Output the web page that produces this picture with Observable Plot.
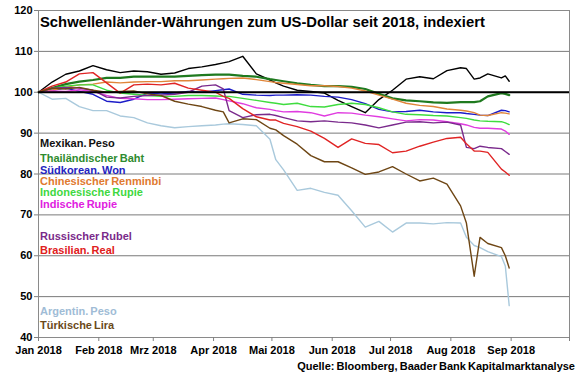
<!DOCTYPE html>
<html><head><meta charset="utf-8">
<script src="https://cdn.jsdelivr.net/npm/d3@7"></script>
<script src="https://cdn.jsdelivr.net/npm/@observablehq/plot@0.6"></script>
<style>
body{margin:0;background:#fff;}
#wrap{position:relative;width:580px;height:375px;font-family:"Liberation Sans",Arial,sans-serif;font-weight:bold;color:#000;}
#title{position:absolute;left:40px;top:14px;font-size:14.8px;line-height:17px;white-space:nowrap;}
.leg{position:absolute;left:40px;font-size:11px;line-height:12px;white-space:nowrap;word-spacing:-1px;}
#caption{position:absolute;right:5px;top:360px;font-size:11px;line-height:13px;white-space:nowrap;word-spacing:-1px;}
</style></head>
<body>
<div id="wrap">
  <div id="chart"></div>
  <div id="title">Schwellenländer-Währungen zum US-Dollar seit 2018, indexiert</div>
  <div id="legend"></div>
  <div id="caption">Quelle: Bloomberg, Baader Bank Kapitalmarktanalyse</div>
</div>
<script>
const dates = ["2018-01-01","2018-01-08","2018-01-15","2018-01-22","2018-01-29","2018-02-05","2018-02-12","2018-02-19","2018-02-26","2018-03-05","2018-03-12","2018-03-19","2018-03-26","2018-04-02","2018-04-06","2018-04-09","2018-04-16","2018-04-23","2018-04-30","2018-05-03","2018-05-07","2018-05-14","2018-05-21","2018-05-28","2018-06-04","2018-06-11","2018-06-18","2018-06-25","2018-07-02","2018-07-09","2018-07-16","2018-07-23","2018-07-30","2018-08-06","2018-08-09","2018-08-13","2018-08-16","2018-08-20","2018-08-27","2018-08-29","2018-08-31"];

const mexikanPeso = [100,102.5,104.4,105.2,106.5,105.5,104.8,105.2,105,104.4,104.7,105.8,106.2,106.8,107.2,107.5,108.8,104.5,103,102.3,101.5,100.5,100.2,99.8,98,96.5,95,98.2,100.5,103.2,103.8,103.3,105.3,106,105.8,103.2,103.5,104.5,103.5,104,102.7];
const thaiBaht = [100,101,102,102.6,103,103.5,103.5,103.8,103.8,103.8,103.8,104,104.2,104.3,104.3,104.3,104,103.8,103.2,103,102.7,102.2,101.8,101.5,101.5,101.3,100.8,99.6,98.5,98,97.8,97.5,97.4,97.6,97.6,97.6,97.8,99,99.8,99.6,99.3];
const koreaWon = [100,100.5,101,100.2,99.5,97.8,97.5,98.3,99.8,99.6,99.8,100.2,100,100.4,100.6,100.8,99.5,99.3,99.2,99.3,99.3,99.4,99.3,99,98.8,98.2,97.2,95.8,95.2,95.3,95.6,95.2,95,95,94.8,94.6,94.4,94.3,95.6,95.5,95.2];
const chinaRenminbi = [100,100.5,101.2,101.8,102,102.5,102.3,102.5,102.6,102.6,102.8,102.8,103,103.2,103.3,103.4,103.5,103.1,102.6,102.4,102.2,101.9,101.6,101.6,101.4,101,100.3,99.3,98.3,97.3,96.8,96.5,95.9,95.6,95.4,95,94.4,94.3,95,94.9,94.7];
const indonesiaRupie = [100,101,101.5,101.8,101.8,100.5,99.8,99.5,99.2,99,99,99.2,99.2,99.1,99,99,98.5,98,97.5,97.3,97,97.3,96.5,96.4,97,97.3,97,96.2,95.2,94.6,94.5,94.3,94.2,93.8,93.6,93.2,93,92.9,92.8,92.5,92.1];
const indiaRupie = [100,100.3,100.2,100.6,100.2,99.2,98.5,98.4,98.2,98.2,98.3,98.4,98.5,98.6,98.2,97.9,97.2,96.2,95.8,95.5,95.2,95.3,95,94.2,95,94.9,94.4,94,93.5,93,93.3,93.2,92.8,92.3,92,91.4,91.2,91.2,91,90.5,89.7];
const russiaRubel = [100,101,101.2,101,100.5,98.8,98.6,99,99.2,99.3,99.5,100,101.5,101.8,100.8,95.5,93.8,94.5,94.6,94.3,93.8,93,92.8,93,92.7,92.5,92,91.3,92,92.7,92.8,92.5,92.7,92,86.5,86.2,86.8,86.5,86.2,85.5,84.8];
const brasilReal = [100,101.5,102.5,104.5,104.8,102.3,99.8,101.8,102,101.8,102.2,101,100.5,100,99,98.5,96,94,93.2,93.2,92.4,91.6,90.5,88.7,86.5,88.6,87.5,87.2,85.2,85.6,86.8,87.8,88.7,89,87.4,85.6,85.6,85.3,81.2,80.5,79.7];
const argentinPeso = [100,98.3,98.5,96.5,95.5,95.5,94.2,93.8,92.5,91.8,91.3,91.6,91.8,92,92.2,92.3,92.1,91.8,88.5,83.5,81,76,76.5,75.5,74.8,71,67,68.4,65.8,68,68,67.8,68.1,68,64.5,62.5,62,61,59.8,57.5,47.8];
const tuerkeiLira = [100,101,100.8,101.2,100.5,100,100.2,100.3,99.6,99.2,97.8,97.1,96.5,95.6,95.2,92.5,93.5,93.3,91.2,90.8,89.4,87.3,84.5,83,83,81.5,79.9,80.5,81.8,80,78.3,79,77.5,72.2,68,55,64.5,63,62,60,57];

const seriesNames = ["Mexikan. Peso","Thailändischer Baht","Südkorean. Won","Chinesischer Renminbi","Indonesische Rupie","Indische Rupie","Russischer Rubel","Brasilian. Real","Argentin. Peso","Türkische Lira"];
const seriesValues = [mexikanPeso,thaiBaht,koreaWon,chinaRenminbi,indonesiaRupie,indiaRupie,russiaRubel,brasilReal,argentinPeso,tuerkeiLira];

const monthStarts = ["2018-01-01","2018-02-01","2018-03-01","2018-04-01","2018-05-01","2018-06-01","2018-07-01","2018-08-01","2018-09-01","2018-10-01"];
const monthLabels = ["Jan 2018","Feb 2018","Mrz 2018","Apr 2018","Mai 2018","Jun 2018","Jul 2018","Aug 2018","Sep 2018",""];
const yTicks = [40,50,60,70,80,90,100,110,120];

// styling
const lineColors = ["#000000","#1f7a1f","#1c1cc8","#e0853a","#3fdc3f","#e03ce0","#7a2a8c","#e02424","#a9c9dc","#6e4614"];
const labelColors = ["#111111","#2e8b2e","#2424c0","#e07a30","#3fd83f","#e020e0","#7a2a8a","#e02020","#a0bcd6","#6b4a1a"];
const lineWidths = [1.4,2.2,1.4,1.4,1.4,1.4,1.4,1.4,1.4,1.4];
const legendCenters = [143,158,169.5,181,192,204,236,250,311,325];

const parse = d3.utcParse("%Y-%m-%d");
const rows = seriesValues.map((vals, s) => vals.map((v, i) => ({date: parse(dates[i]), value: v, name: seriesNames[s]})));
const tickDates = monthStarts.map(parse);
const labelOf = d => monthLabels[tickDates.findIndex(t => +t === +d)] ?? "";

const chart = Plot.plot({
  width: 580, height: 360,
  marginLeft: 38, marginRight: 11, marginTop: 10, marginBottom: 23,
  style: {fontFamily: "'Liberation Sans', Arial, sans-serif", fontSize: "11px", fontWeight: "bold", color: "#000", background: "#fff"},
  x: {type: "utc", domain: [tickDates[0], tickDates[tickDates.length - 1]]},
  y: {domain: [40, 120]},
  marks: [
    Plot.ruleY(yTicks, {stroke: "#7a7a7a", strokeWidth: 1}),
    Plot.frame({stroke: "#8a8a8a"}),
    ...rows.map((r, s) => Plot.line(r, {x: "date", y: "value", stroke: lineColors[s], strokeWidth: lineWidths[s], strokeLinejoin: "round"})),
    Plot.ruleY([100], {stroke: "#000", strokeWidth: 2.2}),
    Plot.axisX({ticks: tickDates, tickFormat: labelOf, tickSize: 4, tickPadding: 5, stroke: "#808080", fill: "#000", label: null}),
    Plot.axisY({ticks: yTicks, tickSize: 4, tickPadding: 2, stroke: "#808080", fill: "#000", label: null})
  ]
});
document.getElementById("chart").appendChild(chart);

const legend = document.getElementById("legend");
seriesNames.forEach((n, i) => {
  const d = document.createElement("div");
  d.className = "leg";
  d.textContent = n;
  d.style.color = labelColors[i];
  d.style.top = (legendCenters[i] - 6) + "px";
  legend.appendChild(d);
});
</script>
</body></html>
